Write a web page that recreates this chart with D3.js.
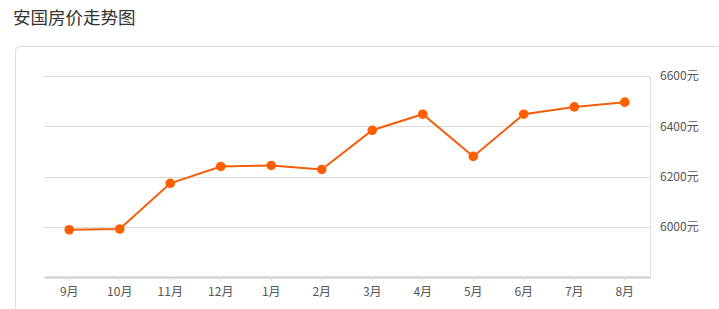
<!DOCTYPE html>
<html>
<head>
<meta charset="utf-8">
<script src="https://cdn.jsdelivr.net/npm/d3@7"></script>
<style>
  body { margin: 0; background: #fff; font-family: "Noto Sans CJK SC", "Noto Sans", sans-serif; }
</style>
</head>
<body>
<div id="chart"></div>
<script>
const title = "安国房价走势图"
const months = ["9月", "10月", "11月", "12月", "1月", "2月", "3月", "4月", "5月", "6月", "7月", "8月"]
const prices = [5988, 5991, 6173, 6240, 6244, 6228, 6384, 6448, 6280, 6448, 6477, 6496]
const yTicks = [6000, 6200, 6400, 6600]

const width = 719, height = 309
const margin = {top: 76, right: 69, bottom: 32, left: 44}

const svg = d3.select("#chart").append("svg")
  .attr("width", width)
  .attr("height", height)

svg.append("text")
  .attr("x", 13)
  .attr("y", 24)
  .attr("fill", "#333")
  .attr("font-size", 17.5)
  .text(title)

// card outline
svg.append("rect")
  .attr("x", 15.5)
  .attr("y", 46.5)
  .attr("width", 720)
  .attr("height", 300)
  .attr("rx", 4)
  .attr("fill", "none")
  .attr("stroke", "#ddd")

const x = d3.scaleBand(months, [margin.left, width - margin.right])
const y = d3.scaleLinear([5800, 6600], [height - margin.bottom, margin.top])

const cx = d => x(d) + x.bandwidth() / 2

// grid
svg.append("g")
  .selectAll("line")
  .data(yTicks)
  .join("line")
    .attr("x1", margin.left)
    .attr("x2", width - margin.right)
    .attr("y1", d => Math.round(y(d)) + 0.5)
    .attr("y2", d => Math.round(y(d)) + 0.5)
    .attr("stroke", "#ddd")

// right axis
svg.append("g")
  .attr("transform", `translate(${width - margin.right},0)`)
  .call(d3.axisRight(y).tickValues(yTicks).tickSize(0).tickPadding(10).tickFormat(d => d + "元"))
  .call(g => g.select(".domain").attr("stroke", "#ddd"))
  .call(g => g.selectAll("text")
    .attr("fill", "#555")
    .attr("font-size", 12)
    .attr("font-family", "Noto Sans CJK SC, sans-serif"))

// bottom axis
svg.append("g")
  .attr("transform", `translate(0,${height - margin.bottom})`)
  .call(d3.axisBottom(x).tickSize(4).tickPadding(6).tickSizeOuter(0))
  .call(g => g.select(".domain").attr("stroke", "#ccc").attr("stroke-width", 2))
  .call(g => g.selectAll(".tick line").attr("stroke", "#ddd"))
  .call(g => g.selectAll("text")
    .attr("fill", "#555")
    .attr("font-size", 12)
    .attr("font-family", "Noto Sans CJK SC, sans-serif"))

const line = d3.line()
  .x((d, i) => cx(months[i]))
  .y(d => y(d))

svg.append("path")
  .datum(prices)
  .attr("fill", "none")
  .attr("stroke", "#f25f0c")
  .attr("stroke-width", 2)
  .attr("d", line)

svg.append("g")
  .selectAll("circle")
  .data(prices)
  .join("circle")
    .attr("cx", (d, i) => cx(months[i]))
    .attr("cy", d => y(d))
    .attr("r", 4.8)
    .attr("fill", "#ff5f00")
</script>
</body>
</html>
